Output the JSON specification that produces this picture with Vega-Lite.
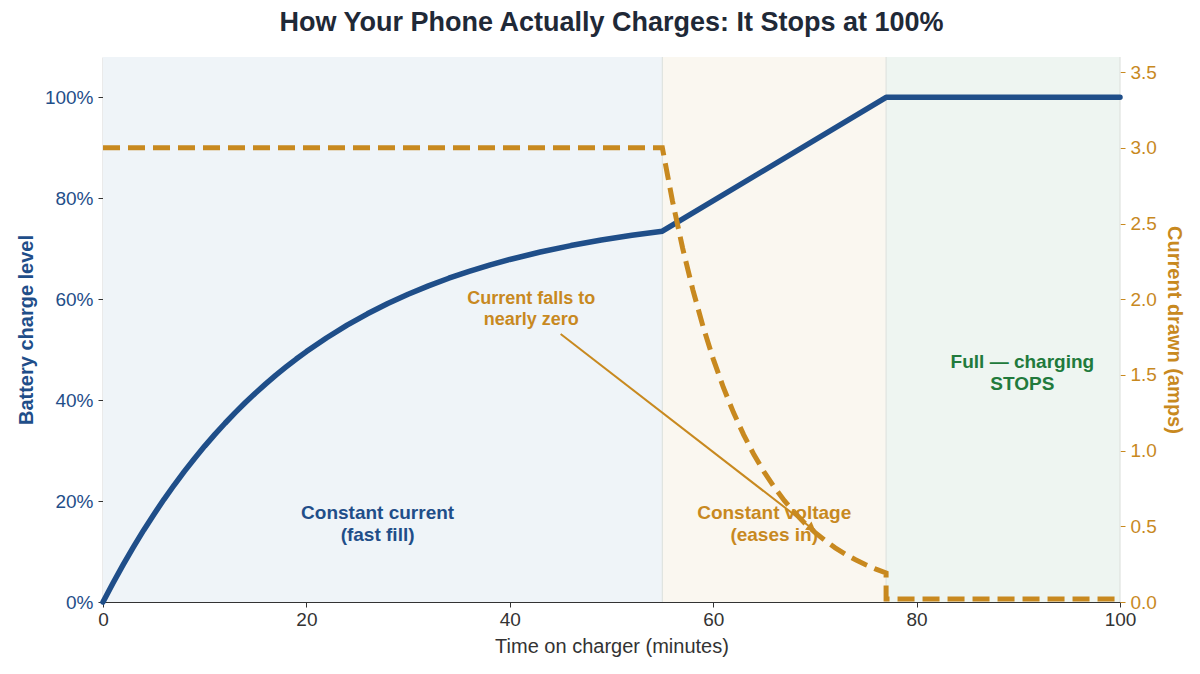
{
  "$schema": "https://vega.github.io/schema/vega-lite/v6.json",
  "width": 1017,
  "height": 545,
  "autosize": "none",
  "padding": {"left": 103, "top": 57, "right": 80, "bottom": 72},
  "background": "white",
  "title": {
    "text": "How Your Phone Actually Charges: It Stops at 100%",
    "font": "Liberation Sans",
    "fontSize": 27,
    "fontWeight": "bold",
    "color": "#1f2937",
    "anchor": "middle",
    "frame": "group",
    "offset": 19
  },
  "config": {
    "view": {"stroke": null},
    "font": "Liberation Sans",
    "axis": {"grid": false}
  },
  "datasets": {
    "battery": [
      {"t": 0, "pct": 0}, {"t": 1, "pct": 3.83}, {"t": 2, "pct": 7.47}, {"t": 3, "pct": 10.93},
      {"t": 4, "pct": 14.23}, {"t": 5, "pct": 17.36}, {"t": 6, "pct": 20.35}, {"t": 7, "pct": 23.18},
      {"t": 8, "pct": 25.88}, {"t": 9, "pct": 28.45}, {"t": 10, "pct": 30.89}, {"t": 11, "pct": 33.21},
      {"t": 12, "pct": 35.42}, {"t": 13, "pct": 37.52}, {"t": 14, "pct": 39.52}, {"t": 15, "pct": 41.42},
      {"t": 16, "pct": 43.23}, {"t": 17, "pct": 44.95}, {"t": 18, "pct": 46.58}, {"t": 19, "pct": 48.14},
      {"t": 20, "pct": 49.62}, {"t": 22, "pct": 52.37}, {"t": 24, "pct": 54.86}, {"t": 26, "pct": 57.11},
      {"t": 28, "pct": 59.14}, {"t": 30, "pct": 60.98}, {"t": 32, "pct": 62.65}, {"t": 34, "pct": 64.16},
      {"t": 36, "pct": 65.52}, {"t": 38, "pct": 66.76}, {"t": 40, "pct": 67.88}, {"t": 43, "pct": 69.36},
      {"t": 46, "pct": 70.63}, {"t": 49, "pct": 71.73}, {"t": 52, "pct": 72.67}, {"t": 55, "pct": 73.48},
      {"t": 77, "pct": 100}, {"t": 100, "pct": 100}
    ],
    "current": [
      {"i": 0, "t": 0, "amps": 3.0}, {"i": 1, "t": 55, "amps": 3.0}, {"i": 2, "t": 56, "amps": 2.647},
      {"i": 3, "t": 57, "amps": 2.336}, {"i": 4, "t": 58, "amps": 2.062}, {"i": 5, "t": 59, "amps": 1.82},
      {"i": 6, "t": 60, "amps": 1.606}, {"i": 7, "t": 61, "amps": 1.417}, {"i": 8, "t": 62, "amps": 1.251},
      {"i": 9, "t": 63, "amps": 1.104}, {"i": 10, "t": 64, "amps": 0.974}, {"i": 11, "t": 65, "amps": 0.86},
      {"i": 12, "t": 66, "amps": 0.759}, {"i": 13, "t": 67, "amps": 0.669}, {"i": 14, "t": 68, "amps": 0.591},
      {"i": 15, "t": 69, "amps": 0.521}, {"i": 16, "t": 70, "amps": 0.46}, {"i": 17, "t": 71, "amps": 0.406},
      {"i": 18, "t": 72, "amps": 0.358}, {"i": 19, "t": 73, "amps": 0.316}, {"i": 20, "t": 74, "amps": 0.279},
      {"i": 21, "t": 75, "amps": 0.246}, {"i": 22, "t": 76, "amps": 0.217}, {"i": 23, "t": 77, "amps": 0.192},
      {"i": 24, "t": 77, "amps": 0.02}, {"i": 25, "t": 100, "amps": 0.02}
    ]
  },
  "layer": [
    {
      "layer": [
        {
          "data": {"values": [
            {"start": 0, "end": 55, "region": "cc"},
            {"start": 55, "end": 77, "region": "cv"},
            {"start": 77, "end": 100, "region": "full"}
          ]},
          "mark": {"type": "rect"},
          "encoding": {
            "x": {"field": "start", "type": "quantitative", "scale": {"domain": [0, 100], "nice": false, "zero": false},
              "axis": {"values": [0, 20, 40, 60, 80, 100], "title": "Time on charger (minutes)", "titleFont": "Liberation Sans", "titleFontSize": 20, "titleFontWeight": "normal", "titleColor": "#333333", "titlePadding": 7,
                "labelFontSize": 19, "labelColor": "#333333", "labelFont": "Liberation Sans", "domainColor": "#333333", "domainWidth": 1.2, "tickColor": "#333333", "tickSize": 5, "labelPadding": 3, "labelFlush": false}},
            "x2": {"field": "end"},
            "color": {"field": "region", "type": "nominal", "scale": {"domain": ["cc", "cv", "full"], "range": ["#eff4f8", "#faf7f0", "#eef5f1"]}, "legend": null}
          }
        },
        {
          "data": {"values": [{"t": 55}, {"t": 77}, {"t": 100}]},
          "mark": {"type": "rule", "color": "#dfe3df", "strokeWidth": 1.2},
          "encoding": {"x": {"field": "t", "type": "quantitative"}}
        },
        {
          "data": {"name": "battery"},
          "mark": {"type": "line", "color": "#1f4e89", "strokeWidth": 5.5, "strokeCap": "round", "strokeJoin": "round"},
          "encoding": {
            "x": {"field": "t", "type": "quantitative"},
            "y": {"field": "pct", "type": "quantitative", "title": "Battery charge level",
              "scale": {"domain": [0, 108], "nice": false},
              "axis": {"values": [0, 20, 40, 60, 80, 100], "labelExpr": "datum.value + '%'", "labelFontSize": 19, "labelColor": "#1f4e89", "labelFont": "Liberation Sans",
                "titleColor": "#1f4e89", "titleFontSize": 20, "titleFont": "Liberation Sans", "titleFontWeight": "bold", "titlePadding": 8,
                "domainColor": "#333333", "domainWidth": 1.2, "tickColor": "#333333", "tickSize": 5, "labelPadding": 5}}
          }
        },
        {
          "data": {"values": [{"t": 45, "t2": 69.5, "pct": 53.1, "pct2": 14.9}]},
          "mark": {"type": "rule", "color": "#c8891f", "strokeWidth": 2},
          "encoding": {
            "x": {"field": "t", "type": "quantitative"},
            "x2": {"field": "t2"},
            "y": {"field": "pct", "type": "quantitative", "title": "Battery charge level"},
            "y2": {"field": "pct2"}
          }
        },
        {
          "data": {"values": [{"t": 69.7, "pct": 14.6}]},
          "mark": {"type": "point", "shape": "triangle-right", "filled": true, "color": "#c8891f", "size": 110, "angle": 38, "opacity": 1},
          "encoding": {
            "x": {"field": "t", "type": "quantitative"},
            "y": {"field": "pct", "type": "quantitative", "title": "Battery charge level"}
          }
        },
        {
          "data": {"values": [{"t": 27, "pct": 19.4, "label": "Constant current\n(fast fill)"}]},
          "mark": {"type": "text", "color": "#1f4e89", "fontSize": 19, "fontWeight": "bold", "font": "Liberation Sans", "align": "center", "baseline": "top", "lineBreak": "\n", "lineHeight": 22},
          "encoding": {"x": {"field": "t", "type": "quantitative"}, "y": {"field": "pct", "type": "quantitative", "title": "Battery charge level"}, "text": {"field": "label"}}
        },
        {
          "data": {"values": [{"t": 66, "pct": 19.4, "label": "Constant voltage\n(eases in)"}]},
          "mark": {"type": "text", "color": "#c8891f", "fontSize": 19, "fontWeight": "bold", "font": "Liberation Sans", "align": "center", "baseline": "top", "lineBreak": "\n", "lineHeight": 22},
          "encoding": {"x": {"field": "t", "type": "quantitative"}, "y": {"field": "pct", "type": "quantitative", "title": "Battery charge level"}, "text": {"field": "label"}}
        },
        {
          "data": {"values": [{"t": 90.4, "pct": 49.4, "label": "Full — charging\nSTOPS"}]},
          "mark": {"type": "text", "color": "#217a3c", "fontSize": 19, "fontWeight": "bold", "font": "Liberation Sans", "align": "center", "baseline": "top", "lineBreak": "\n", "lineHeight": 22},
          "encoding": {"x": {"field": "t", "type": "quantitative"}, "y": {"field": "pct", "type": "quantitative", "title": "Battery charge level"}, "text": {"field": "label"}}
        },
        {
          "data": {"values": [{"t": 42.1, "pct": 61.9, "label": "Current falls to\nnearly zero"}]},
          "mark": {"type": "text", "color": "#c8891f", "fontSize": 18, "fontWeight": "bold", "font": "Liberation Sans", "align": "center", "baseline": "top", "lineBreak": "\n", "lineHeight": 21},
          "encoding": {"x": {"field": "t", "type": "quantitative"}, "y": {"field": "pct", "type": "quantitative", "title": "Battery charge level"}, "text": {"field": "label"}}
        }
      ]
    },
    {
      "data": {"name": "current"},
      "mark": {"type": "line", "color": "#c8891f", "strokeWidth": 5, "strokeDash": [17, 8]},
      "encoding": {
        "x": {"field": "t", "type": "quantitative"},
        "y": {"field": "amps", "type": "quantitative", "title": "Current drawn (amps)",
          "scale": {"domain": [0, 3.6], "nice": false},
          "axis": {"orient": "right", "values": [0, 0.5, 1, 1.5, 2, 2.5, 3, 3.5], "format": ".1f", "labelFontSize": 19, "labelColor": "#c8891f", "labelFont": "Liberation Sans",
            "titleColor": "#c8891f", "titleFontSize": 20, "titleFont": "Liberation Sans", "titleFontWeight": "bold", "titlePadding": 7,
            "domain": false, "tickColor": "#c8891f", "tickSize": 5, "labelPadding": 5}},
        "order": {"field": "i", "type": "quantitative"}
      }
    }
  ],
  "resolve": {"scale": {"y": "independent"}}
}
